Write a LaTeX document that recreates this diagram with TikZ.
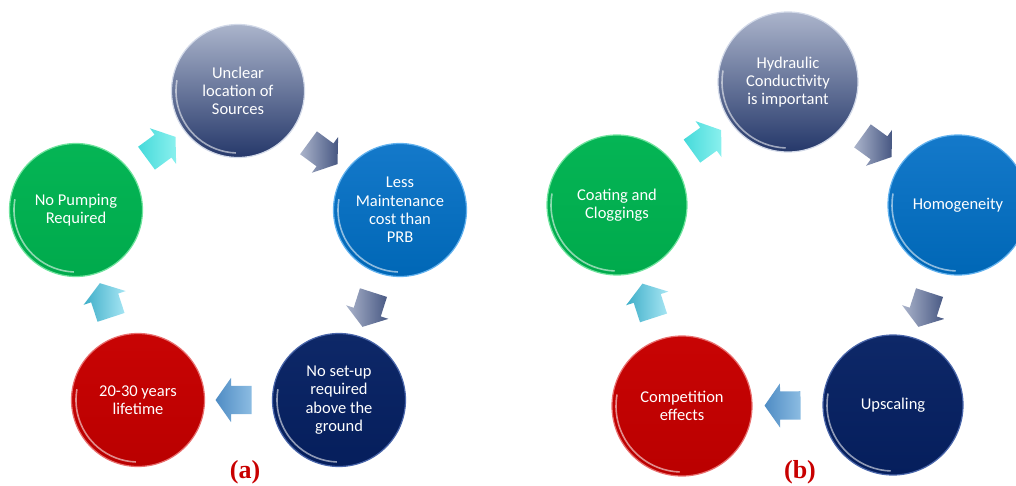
\documentclass[tikz,border=0pt]{standalone}
\usepackage{fontspec}
\setmainfont{Carlito}
\newfontfamily\labfont{Liberation Serif}
\usetikzlibrary{shapes.arrows}
\definecolor{greyhi}{HTML}{ABB4CB}
\definecolor{greylo}{HTML}{25386A}
\definecolor{greyrim}{HTML}{D2D9E8}
\definecolor{bluehi}{HTML}{1479CA}
\definecolor{bluelo}{HTML}{0067B6}
\definecolor{bluerim}{HTML}{63B2EE}
\definecolor{navyhi}{HTML}{0E2868}
\definecolor{navylo}{HTML}{051E5C}
\definecolor{navyrim}{HTML}{4A66AA}
\definecolor{redhi}{HTML}{C80404}
\definecolor{redlo}{HTML}{BA0000}
\definecolor{redrim}{HTML}{E87070}
\definecolor{greenhi}{HTML}{05B555}
\definecolor{greenlo}{HTML}{00AA4C}
\definecolor{greenrim}{HTML}{70E39E}
\definecolor{turqhi}{HTML}{8AF0EE}
\definecolor{turqlo}{HTML}{45DADA}
\definecolor{steelhi}{HTML}{8CBCE2}
\definecolor{steello}{HTML}{4F8CC4}
\definecolor{skyhi}{HTML}{A8E6F4}
\definecolor{skylo}{HTML}{3EAEC8}
\definecolor{labred}{HTML}{C80000}
\begin{document}
\begin{tikzpicture}[x=1pt,y=-1pt]
\tikzstyle{every node}+=[inner sep=0pt]
\tikzstyle{disc}=[circle, outer sep=0pt, line width=1.2pt, text=white, align=center, font=\fontsize{16.5}{18.3}\selectfont]
\tikzstyle{disca}=[disc, minimum size=133pt]
\tikzstyle{discb}=[disc, minimum size=140pt]
\tikzstyle{sheen}=[white, opacity=0.55, line width=1.6pt]
\tikzstyle{blk}=[single arrow, sloped, inner xsep=0pt, inner ysep=14pt, minimum height=36pt, single arrow head extend=8pt, single arrow tip angle=110]
\tikzstyle{lab}=[text=labred, font=\labfont\bfseries\fontsize{26}{26}\selectfont]
\useasboundingbox (0,0) rectangle (1016,486);
\node [disca, top color=greyhi, bottom color=greylo, draw=greyrim] (uncl) at (238,91) {Unclear\\location of\\Sources};
\node [disca, top color=bluehi, bottom color=bluelo, draw=bluerim] (less) at (400,210) {Less\\Maintenance\\cost than\\PRB};
\node [disca, top color=navyhi, bottom color=navylo, draw=navyrim] (nosetup) at (339,400) {No set-up\\required\\above the\\ground};
\node [disca, top color=redhi, bottom color=redlo, draw=redrim] (life) at (138,400) {20-30 years\\lifetime};
\node [disca, top color=greenhi, bottom color=greenlo, draw=greenrim] (nopump) at (76,210) {No Pumping\\Required};
\draw [sheen] (uncl.center) ++(190:62) arc (190:92:62);
\draw [sheen] (less.center) ++(190:62) arc (190:92:62);
\draw [sheen] (nosetup.center) ++(190:62) arc (190:92:62);
\draw [sheen] (life.center) ++(190:62) arc (190:92:62);
\draw [sheen] (nopump.center) ++(190:62) arc (190:92:62);
\path [allow upside down] (nopump) -- node [blk, left color=turqlo, right color=turqhi] (a1) {} (uncl);
\path [allow upside down] (uncl) -- node [blk, left color=greyhi, right color=greylo!75!greyhi] (a2) {} (less);
\path [allow upside down] (less) -- node [blk, left color=greyhi, right color=greylo!75!greyhi] (a3) {} (nosetup);
\path [allow upside down] (nosetup) -- node [blk, left color=steello, right color=steelhi] (a4) {} (life);
\path [allow upside down] (life) -- node [blk, left color=skylo, right color=skyhi] (a5) {} (nopump);
\node [lab] (laba) at (245,472) {(a)};
\node [discb, top color=greyhi, bottom color=greylo, draw=greyrim] (hydr) at (788,82) {Hydraulic\\Conductivity\\is important};
\node [discb, top color=bluehi, bottom color=bluelo, draw=bluerim] (homog) at (958,205) {Homogeneity};
\node [discb, top color=navyhi, bottom color=navylo, draw=navyrim] (upsc) at (893,405) {Upscaling};
\node [discb, top color=redhi, bottom color=redlo, draw=redrim] (compet) at (682,406) {Competition\\effects};
\node [discb, top color=greenhi, bottom color=greenlo, draw=greenrim] (coat) at (617,205) {Coating and\\Cloggings};
\draw [sheen] (hydr.center) ++(190:66) arc (190:92:66);
\draw [sheen] (homog.center) ++(190:66) arc (190:92:66);
\draw [sheen] (upsc.center) ++(190:66) arc (190:92:66);
\draw [sheen] (compet.center) ++(190:66) arc (190:92:66);
\draw [sheen] (coat.center) ++(190:66) arc (190:92:66);
\path [allow upside down] (coat) -- node [blk, left color=turqlo, right color=turqhi] (b1) {} (hydr);
\path [allow upside down] (hydr) -- node [blk, left color=greyhi, right color=greylo!75!greyhi] (b2) {} (homog);
\path [allow upside down] (homog) -- node [blk, left color=greyhi, right color=greylo!75!greyhi] (b3) {} (upsc);
\path [allow upside down] (upsc) -- node [blk, left color=steello, right color=steelhi] (b4) {} (compet);
\path [allow upside down] (compet) -- node [blk, left color=skylo, right color=skyhi] (b5) {} (coat);
\node [lab] (labb) at (800,472) {(b)};
\end{tikzpicture}
\end{document}
